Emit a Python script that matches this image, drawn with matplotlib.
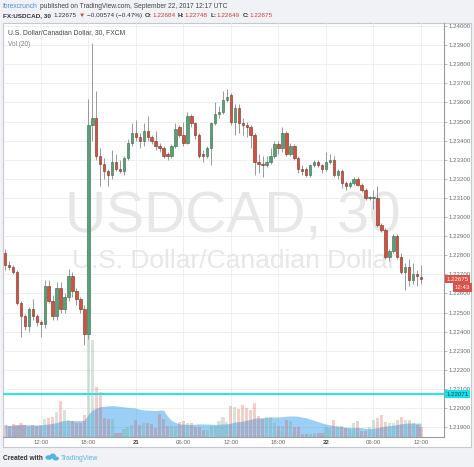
import matplotlib
matplotlib.use('Agg')
import matplotlib.pyplot as plt
import matplotlib.transforms as mtransforms
from matplotlib.patches import Rectangle, Ellipse
import numpy as np
import pandas as pd

plt.rcParams['font.family'] = ['Liberation Sans', 'DejaVu Sans']

# 30 minute candles, FX:USDCAD
times = pd.date_range('2017-09-20 07:30', '2017-09-22 12:00', freq='30min')

opens = [1.2281, 1.2275, 1.2274, 1.2271, 1.2255, 1.2248, 1.2243, 1.2252, 1.2248, 1.2245,
         1.2244, 1.2264, 1.2256, 1.2248, 1.2263, 1.2252, 1.2258, 1.2269, 1.2261, 1.2257,
         1.2252, 1.2239, 1.2348, 1.2352, 1.2332, 1.2328, 1.2324, 1.2322, 1.2329, 1.2325,
         1.2324, 1.2331, 1.2339, 1.2344, 1.2342, 1.2340, 1.2345, 1.2342, 1.2340, 1.2337,
         1.2336, 1.2333, 1.2332, 1.2337, 1.2347, 1.2343, 1.2339, 1.2353, 1.2349, 1.2343,
         1.2333, 1.2332, 1.2336, 1.2349, 1.2354, 1.2355, 1.2361, 1.2364, 1.2350, 1.2357,
         1.2349, 1.2348, 1.2347, 1.2343, 1.2329, 1.2328, 1.2327, 1.2329, 1.2332, 1.2338,
         1.2336, 1.2344, 1.2333, 1.2337, 1.2331, 1.2325, 1.2325, 1.2322, 1.2327, 1.2329,
         1.2327, 1.2325, 1.2329, 1.2330, 1.2322, 1.2324, 1.2318, 1.2316, 1.2318, 1.2320,
         1.2317, 1.2314, 1.2310, 1.2310, 1.2310, 1.2296, 1.2293, 1.2279, 1.2282, 1.2290,
         1.2279, 1.2271, 1.2274, 1.2267, 1.2270, 1.22684]
highs = [1.2283, 1.2277, 1.2275, 1.2272, 1.2256, 1.2249, 1.2253, 1.2257, 1.2249, 1.2246,
         1.2267, 1.2267, 1.2259, 1.2266, 1.2266, 1.2260, 1.2273, 1.2271, 1.2263, 1.2258,
         1.2254, 1.2362, 1.2391, 1.2366, 1.2336, 1.2331, 1.2325, 1.2335, 1.2333, 1.2330,
         1.2332, 1.2341, 1.2349, 1.2351, 1.2344, 1.2349, 1.2353, 1.2343, 1.2345, 1.2339,
         1.2337, 1.2334, 1.2338, 1.2349, 1.2348, 1.2350, 1.2355, 1.2354, 1.2350, 1.2344,
         1.2335, 1.2337, 1.2350, 1.2360, 1.2358, 1.2366, 1.2367, 1.2365, 1.2359, 1.2359,
         1.2352, 1.2350, 1.2348, 1.2344, 1.2333, 1.2332, 1.2332, 1.2336, 1.2340, 1.2340,
         1.2347, 1.2345, 1.2339, 1.2338, 1.2332, 1.2327, 1.2326, 1.2328, 1.2330, 1.2330,
         1.2328, 1.2334, 1.2333, 1.2332, 1.2325, 1.2325, 1.2319, 1.2319, 1.2321, 1.2321,
         1.2318, 1.2315, 1.2311, 1.2314, 1.2316, 1.2297, 1.2294, 1.2283, 1.2291, 1.2291,
         1.2281, 1.2276, 1.2278, 1.2276, 1.2272, 1.22748]
lows = [1.2272, 1.2272, 1.2270, 1.2254, 1.2237, 1.2241, 1.2240, 1.2246, 1.2243, 1.2237,
        1.2242, 1.2255, 1.2246, 1.2246, 1.2250, 1.2250, 1.2256, 1.2258, 1.2254, 1.2250,
        1.2233, 1.2236, 1.2340, 1.2330, 1.2316, 1.2320, 1.2316, 1.2320, 1.2324, 1.2323,
        1.2322, 1.2330, 1.2337, 1.2340, 1.2336, 1.2337, 1.2340, 1.2338, 1.2335, 1.2334,
        1.2331, 1.2330, 1.2331, 1.2336, 1.2342, 1.2337, 1.2338, 1.2347, 1.2341, 1.2331,
        1.2329, 1.2331, 1.2327, 1.2348, 1.2352, 1.2354, 1.2360, 1.2348, 1.2343, 1.2344,
        1.2343, 1.2342, 1.2336, 1.2322, 1.2323, 1.2321, 1.2326, 1.2328, 1.2331, 1.2333,
        1.2334, 1.2332, 1.2332, 1.2330, 1.2323, 1.2322, 1.2321, 1.2321, 1.2326, 1.2326,
        1.2323, 1.2324, 1.2328, 1.2321, 1.2320, 1.2315, 1.2314, 1.2315, 1.2317, 1.2316,
        1.2313, 1.2309, 1.2309, 1.2304, 1.2295, 1.2292, 1.2278, 1.2277, 1.2281, 1.2278,
        1.2270, 1.2262, 1.2264, 1.2265, 1.2264, 1.22649]
closes = [1.2275, 1.2274, 1.2271, 1.2255, 1.2248, 1.2243, 1.2252, 1.2248, 1.2245, 1.2244,
          1.2264, 1.2256, 1.2248, 1.2263, 1.2252, 1.2258, 1.2269, 1.2261, 1.2257, 1.2252,
          1.2239, 1.2348, 1.2352, 1.2332, 1.2328, 1.2324, 1.2322, 1.2329, 1.2325, 1.2324,
          1.2331, 1.2339, 1.2344, 1.2342, 1.2340, 1.2345, 1.2342, 1.2340, 1.2337, 1.2336,
          1.2332, 1.2332, 1.2337, 1.2346, 1.2343, 1.2339, 1.2353, 1.2349, 1.2343, 1.2332,
          1.2332, 1.2336, 1.2349, 1.2354, 1.2355, 1.2361, 1.2363, 1.2350, 1.2357, 1.2349,
          1.2348, 1.2347, 1.2343, 1.2329, 1.2328, 1.2327, 1.2329, 1.2332, 1.2338, 1.2336,
          1.2344, 1.2333, 1.2337, 1.2331, 1.2325, 1.2324, 1.2322, 1.2327, 1.2329, 1.2327,
          1.2325, 1.2329, 1.2330, 1.2322, 1.2324, 1.2318, 1.2316, 1.2318, 1.2320, 1.2317,
          1.2314, 1.2310, 1.2310, 1.2310, 1.2296, 1.2293, 1.2279, 1.2282, 1.2290, 1.2279,
          1.2271, 1.2274, 1.2267, 1.2270, 1.2269, 1.22675]
volumes = [12, 11, 13, 12, 14, 12, 11, 12, 11, 12,
           18, 19, 20, 25, 36, 27, 17, 16, 14, 14,
           22, 130, 97, 50, 45, 19, 18, 18, 4, 4,
           8, 10, 12, 17, 12, 14, 14, 13, 9, 23,
           18, 11, 11, 11, 15, 16, 14, 14, 10, 10,
           7, 7, 11, 11, 16, 20, 15, 31, 30, 28,
           32, 29, 27, 34, 21, 18, 20, 20, 14, 11,
           11, 17, 16, 10, 10, 3, 3, 3, 4, 4,
           4, 10, 9, 17, 11, 11, 9, 9, 14, 16,
           6, 6, 10, 17, 19, 22, 15, 14, 14, 17,
           20, 17, 17, 14, 12, 10]

price_ticks = [1.219 + 0.001 * i for i in range(22)]
last_price = 1.22675
last_time_left = '12:43'
alert_level = 1.22071

W, H = 474, 467
fig = plt.figure(figsize=(W / 100, H / 100), dpi=100, facecolor='#f0f2f5')

def fx(px):
    return px / W

def fy(py):
    return 1 - py / H

# white chart frame
fig.add_artist(Rectangle((fx(3), fy(447)), fx(468), 424 / H, transform=fig.transFigure,
                         facecolor='white', edgecolor='#c5c9cf', lw=0.8, zorder=-10))

rect = [fx(3), fy(437), fx(441), 414 / H]
vax = fig.add_axes(rect, zorder=-5)
ax = fig.add_axes(rect, sharex=vax, zorder=0)
ax.patch.set_visible(False)

x = np.arange(1, len(times) + 1)
o = np.array(opens); c = np.array(closes)
up = c >= o

ax.set_xlim(0.46, 111.8)
ax.set_ylim(1.218482, 1.240157)
vax.set_ylim(0, 414)
vax.axis('off')

# x ticks: every 6 hours
tick_pos, tick_lab = [], []
for i, t in enumerate(times):
    if t.minute == 0 and t.hour % 6 == 0:
        tick_pos.append(x[i])
        tick_lab.append(str(t.day) if t.hour == 0 else t.strftime('%H:%M'))

# grid (behind volume)
blend = mtransforms.blended_transform_factory(vax.transAxes, ax.transData)
vax.hlines(price_ticks, 0, 1, transform=blend, color='#ececec', lw=0.6, zorder=0)
for p in tick_pos:
    vax.axvline(p, color='#ececec', lw=0.6, zorder=0)

# watermark
vax.text(0.52, 0.495, 'USDCAD, 30', transform=vax.transAxes, ha='center', va='baseline',
         fontsize=41, color='#e7e7e7', zorder=0.5)
vax.text(0.525, 0.408, 'U.S. Dollar/Canadian Dollar', transform=vax.transAxes, ha='center',
         va='baseline', fontsize=19, color='#e7e7e7', zorder=0.5)

# volume + MA(20)
ma = pd.Series(volumes).rolling(20, min_periods=1).mean()
vax.fill_between(x, 0, ma, color='#3fa3ee', alpha=0.52, lw=0, zorder=1)
vcol = np.where(up, '#6ba583', '#d75442')
vax.bar(x, volumes, width=0.78, color=vcol, alpha=0.28, lw=0, zorder=2)

# candles
ax.vlines(x, lows, highs, color='#999999', lw=0.7, zorder=2)
body = np.maximum(np.abs(c - o), 0.000025)
bottom = np.minimum(o, c)
ax.bar(x, body, bottom=bottom, width=0.62,
       color=np.where(up, '#5a9f76', '#d0523f'),
       edgecolor=np.where(up, '#2c6b45', '#7a2a20'), lw=0.4, zorder=3)

ax.axhline(alert_level, color='#11e4ee', lw=1.3, zorder=4)

# axes styling
for s in ['left', 'top']:
    ax.spines[s].set_visible(False)
for s in ['right', 'bottom']:
    ax.spines[s].set_color('#9a9ea4')
    ax.spines[s].set_linewidth(0.8)
ax.yaxis.tick_right()
ax.set_yticks(price_ticks)
ax.set_yticklabels(['%.5f' % p for p in price_ticks])
ax.tick_params(axis='y', labelsize=4.4, colors='#9a9ea4', labelcolor='#6a6a6a',
               length=2, width=0.5, pad=1.5)
ax.set_xticks(tick_pos)
ax.set_xticklabels(tick_lab)
ax.tick_params(axis='x', labelsize=4.4, labelcolor='#6a6a6a', length=0, pad=2.2)
for lab in ax.get_xticklabels():
    if ':' not in lab.get_text():
        lab.set_fontweight('bold')
        lab.set_color('#444444')

# price labels on the scale
ax.annotate('%.5f' % last_price, xy=(1.0, last_price), xycoords=('axes fraction', 'data'),
            xytext=(1.5, 0), textcoords='offset points', ha='left', va='center',
            fontsize=4.4, color='white', annotation_clip=False, zorder=10,
            bbox=dict(boxstyle='square,pad=0.25', fc='#d9534a', ec='none'))
ax.annotate(last_time_left, xy=(1.0, last_price), xycoords=('axes fraction', 'data'),
            xytext=(7.8, -6.3), textcoords='offset points', ha='left', va='center',
            fontsize=4.4, color='white', annotation_clip=False, zorder=10,
            bbox=dict(boxstyle='square,pad=0.3', fc='#d9534a', ec='none'))
ax.annotate('%.5f' % alert_level, xy=(1.0, alert_level), xycoords=('axes fraction', 'data'),
            xytext=(1.5, 0), textcoords='offset points', ha='left', va='center',
            fontsize=4.4, color='#1a3a3a', annotation_clip=False, zorder=10,
            bbox=dict(boxstyle='square,pad=0.25', fc='#11e4ee', ec='none'))

# texts inside chart
fig.text(fx(8), fy(33), 'U.S. Dollar/Canadian Dollar, 30, FXCM', fontsize=4.9,
         color='#444444', va='center')
fig.text(fx(8), fy(44), 'Vol (20)', fontsize=4.7, color='#808080', va='center')

renderer = fig.canvas.get_renderer()

def run(x0, y0, parts, size):
    xp = x0
    for txt, col, wt, gap in parts:
        t = fig.text(fx(xp), fy(y0), txt, fontsize=size, color=col, fontweight=wt,
                     va='center', ha='left')
        xp += t.get_window_extent(renderer).width + gap
    return xp

dark = '#333333'
red = '#c8433a'
run(3, 6, [('forexcrunch', '#4a90d6', 'normal', 2.2),
           ('published on TradingView.com, September 22, 2017 12:17 UTC', '#444444', 'normal', 0)],
    4.8)
run(3, 15.5, [('FX:USDCAD, 30', dark, 'bold', 3),
              ('1.22675', dark, 'normal', 2),
              ('\u25bc', red, 'normal', 2),
              ('\u22120.00574 (\u22120.47%)', dark, 'normal', 2.5),
              ('O:', dark, 'bold', 0.4), ('1.22684', red, 'normal', 2.5),
              ('H:', dark, 'bold', 0.4), ('1.22748', red, 'normal', 2.5),
              ('L:', dark, 'bold', 0.4), ('1.22649', red, 'normal', 2.5),
              ('C:', dark, 'bold', 0.4), ('1.22675', red, 'normal', 0)],
    4.6)

# footer
xe = run(3, 458, [('Created with', '#333333', 'bold', 0)], 4.8)
for (ex, ey, ew, eh) in [(xe + 6, 457.5, 7, 4.5), (xe + 10, 456, 6, 5), (xe + 13, 458.5, 6, 4)]:
    fig.add_artist(Ellipse((fx(ex), fy(ey)), fx(ew), eh / H, transform=fig.transFigure,
                           fc='#4fb3e8', ec='none'))
run(xe + 18, 458, [('TradingView', '#5ab4e5', 'normal', 0)], 4.9)

fig.savefig('out.png', dpi=100, facecolor=fig.get_facecolor())
